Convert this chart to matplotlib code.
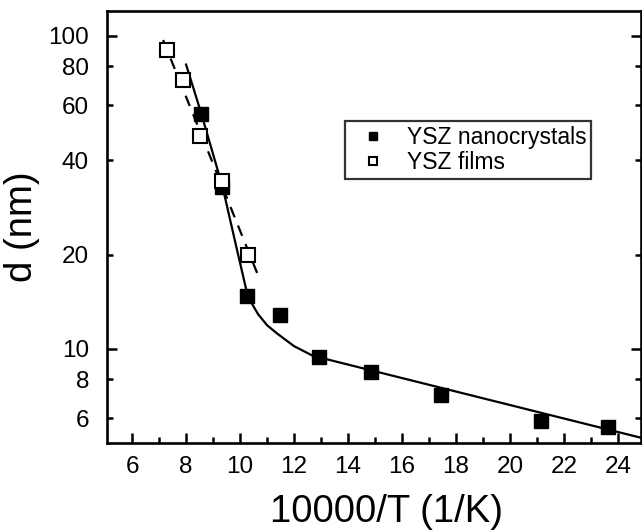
import matplotlib
matplotlib.use('Agg')
from matplotlib import pyplot as plt

plt.rcParams['font.family'] = ['Liberation Sans', 'DejaVu Sans']

# YSZ nanocrystals (filled squares)
nano_x = [8.55, 9.33, 10.25, 11.48, 12.93, 14.85, 17.44, 21.15, 23.63]
nano_d = [56.2, 32.8, 14.8, 12.8, 9.42, 8.44, 7.13, 5.88, 5.62]

# YSZ films (open squares)
film_x = [7.30, 7.89, 8.52, 9.33, 10.29]
film_d = [90.2, 72.3, 47.8, 34.3, 19.9]

# fitted curve for nanocrystals (solid)
fit_x = [8.0, 8.55, 9.35, 9.9, 10.25, 10.45, 10.67, 11.0, 11.37, 12.0, 12.7, 24.85]
fit_d = [81, 57, 33, 20.5, 15.2, 13.9, 12.9, 11.9, 11.2, 10.2, 9.5, 5.2]

# fitted line for films (dashed)
film_fit_x = [7.15, 10.75]
film_fit_d = [97, 16.5]

fig = plt.figure(figsize=(6.42, 5.31), dpi=100)
ax = fig.add_axes([0.1667, 0.1657, 0.8313, 0.8133])

ax.plot(fit_x, fit_d, color='black', lw=1.6, zorder=2)
ax.plot(film_fit_x, film_fit_d, color='black', lw=1.6, ls=(0, (5, 4)), zorder=2)
ax.plot(nano_x, nano_d, ls='none', marker='s', ms=10, color='black', zorder=3,
        label='YSZ nanocrystals')
ax.plot(film_x, film_d, ls='none', marker='s', ms=9.5, mfc='white', mec='black', mew=1.5,
        zorder=4, label='YSZ films')

ax.set_yscale('log')
ax.set_xlim(5.07, 24.85)
ax.set_ylim(5.0, 120)

ax.set_xticks([6, 8, 10, 12, 14, 16, 18, 20, 22, 24])
ax.set_xticks([7, 9, 11, 13, 15, 17, 19, 21, 23], minor=True)
ax.set_yticks([10, 100], labels=['10', '100'])
ax.set_yticks([6, 8, 20, 40, 60, 80], labels=['6', '8', '20', '40', '60', '80'], minor=True)

ax.tick_params(axis='both', which='both', direction='in', labelsize=17.5, width=1.8)
ax.tick_params(axis='both', which='major', length=7)
ax.tick_params(axis='both', which='minor', length=4)
ax.tick_params(axis='x', which='both', pad=9, top=False)
ax.tick_params(axis='y', which='both', pad=13, right=True)

for s in ax.spines.values():
    s.set_linewidth(1.9)

ax.set_xlabel('10000/T (1/K)', fontsize=27.5, labelpad=12, x=0.523)
ax.set_ylabel('d (nm)', fontsize=27.5, labelpad=6)

leg = ax.legend(loc='upper left', bbox_to_anchor=(0.446, 0.745), borderaxespad=0,
                fontsize=16.5, frameon=True, fancybox=False, edgecolor='black',
                handlelength=2.0, handletextpad=0.5, borderpad=0.2, labelspacing=0.1,
                markerscale=0.6)
leg.get_frame().set_linewidth(1.6)

fig.savefig('out.png', dpi=100)
